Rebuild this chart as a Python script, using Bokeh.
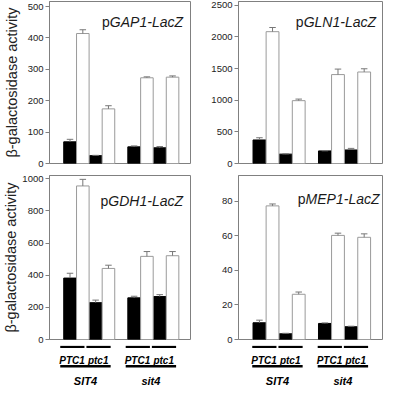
from bokeh.plotting import figure
from bokeh.models import Range1d, FixedTicker, Label, Whisker, TeeHead, ColumnDataSource
from bokeh.layouts import column, row
from bokeh.embed import file_html
from bokeh.resources import INLINE
from bokeh.core.properties import value

# ---------------- data ----------------
strains = ["PTC1", "ptc1", "PTC1", "ptc1"]
backgrounds = ["SIT4", "sit4"]
y_label = "β-galactosidase activity"

gap1_black = [69, 25, 53, 50]
gap1_black_err = [8, 1, 3, 4]
gap1_white = [414, 174, 273, 275]
gap1_white_err = [12, 10, 3, 4]
gap1_ticks = [0, 100, 200, 300, 400, 500]
gap1_max = 516

gln1_black = [372, 148, 199, 214]
gln1_black_err = [35, 5, 2, 25]
gln1_white = [2083, 993, 1405, 1446]
gln1_white_err = [66, 25, 87, 51]
gln1_ticks = [0, 500, 1000, 1500, 2000, 2500]
gln1_max = 2560

gdh1_black = [382, 229, 259, 267]
gdh1_black_err = [30, 16, 10, 12]
gdh1_white = [955, 442, 517, 521]
gdh1_white_err = [41, 20, 30, 26]
gdh1_ticks = [0, 200, 400, 600, 800, 1000]
gdh1_max = 1020

mep1_black = [9.7, 3.3, 9.3, 7.4]
mep1_black_err = [1.5, 0.3, 0.3, 0.3]
mep1_white = [77.4, 26.2, 60.3, 59.2]
mep1_white_err = [1.1, 1.3, 1.3, 2.0]
mep1_ticks = [0, 20, 40, 60, 80]
mep1_max = 95

# ---------------- layout / style ----------------
FONT = "Liberation Sans"
GRAY = "#808080"
WHITE_EDGE = "#9a9a9a"
ERR = "#777777"
BAR_W = 0.98
X0, X1 = -0.6, 10.4


def pair_x(i):
    return 1 + 2 * i + (1 if i >= 2 else 0)


black_x = [pair_x(i) for i in range(len(strains))]
white_x = [b + 1 for b in black_x]

# approximate Liberation Sans advance widths (em) for title width estimate
ADV = {"G": .778, "A": .667, "P": .667, "1": .556, "-": .333, "L": .556, "a": .556,
       "c": .5, "Z": .611, "N": .722, "D": .722, "H": .722, "M": .833, "E": .667}
TITLE_PX = 14


def text_w(s, px):
    return sum(ADV.get(ch, .556) for ch in s) * px


def panel(gene, black, black_err, white, white_err, ticks, ymax,
          left, frame_h, top_b, bot_b, label_standoff, tdx, tdy):
    mbl, mbr = (46, 4) if left else (44, 2)
    w = mbl + 144 + mbr
    h = top_b + frame_h + bot_b
    p = figure(width=w, height=h, x_range=Range1d(X0, X1), y_range=Range1d(0, ymax),
               title=None, output_backend="svg", toolbar_location=None, x_axis_location=None,
               y_axis_location="left", min_border_left=mbl, min_border_right=mbr,
               min_border_top=top_b, min_border_bottom=bot_b)
    p.grid.visible = False
    p.outline_line_color = GRAY
    p.outline_line_width = 1
    p.background_fill_color = "white"
    p.border_fill_color = "white"

    ax = p.yaxis[0]
    ax.ticker = FixedTicker(ticks=ticks)
    ax.major_label_text_font = FONT
    ax.major_label_text_font_size = "9.5px"
    ax.major_label_text_color = "#222222"
    ax.major_label_standoff = 2
    ax.major_tick_out = 4
    ax.major_tick_in = 0
    ax.minor_tick_out = 0
    ax.minor_tick_in = 0
    ax.axis_line_color = GRAY
    ax.major_tick_line_color = GRAY
    if left:
        ax.axis_label = y_label
        ax.axis_label_text_font = FONT
        ax.axis_label_text_font_style = "normal"
        ax.axis_label_text_font_size = "14.5px"
        ax.axis_label_text_color = "#222222"
        ax.axis_label_standoff = label_standoff

    p.vbar(x=black_x, top=black, width=BAR_W, fill_color="black", line_color="black", line_width=1)
    p.vbar(x=white_x, top=white, width=BAR_W, fill_color="white", line_color=WHITE_EDGE, line_width=1)

    src = ColumnDataSource(dict(
        x=black_x + white_x,
        lo=list(black) + list(white),
        hi=[m + e for m, e in zip(black, black_err)] + [m + e for m, e in zip(white, white_err)],
    ))
    p.add_layout(Whisker(source=src, base="x", lower="lo", upper="hi", dimension="height",
                         line_color=ERR, line_width=1, lower_head=None,
                         upper_head=TeeHead(size=6.5, line_color=ERR, line_width=1),
                         level="overlay"))

    ital = gene + "-LacZ"
    iw = text_w(ital, TITLE_PX)
    p.add_layout(Label(x=X1, y=ymax, x_offset=-tdx, y_offset=-tdy, text=ital,
                       text_align="right", text_baseline="alphabetic",
                       text_font=FONT, text_font_style="italic",
                       text_font_size=f"{TITLE_PX}px", text_color="#1a1a1a"))
    p.add_layout(Label(x=X1, y=ymax, x_offset=-tdx - iw, y_offset=-tdy, text="p",
                       text_align="right", text_baseline="alphabetic",
                       text_font=FONT, text_font_style="normal",
                       text_font_size=f"{TITLE_PX}px", text_color="#1a1a1a"))
    return p


SHORT_Y, STRAIN_Y, LONG_Y, GROUP_Y = 1.4, 14.5, 20.7, 35.8
LAB_H = 41


def label_fig(xr, left):
    mbl, mbr = (46, 4) if left else (44, 2)
    q = figure(width=mbl + 144 + mbr, height=LAB_H, x_range=xr, y_range=Range1d(LAB_H, 0),
               title=None, output_backend="svg", toolbar_location=None, x_axis_location=None,
               y_axis_location=None, min_border_left=mbl, min_border_right=mbr,
               min_border_top=0, min_border_bottom=0)
    q.outline_line_color = None
    q.grid.visible = False
    q.border_fill_color = "white"
    sx0 = [b - 0.55 for b in black_x]
    sx1 = [wx + 0.3 for wx in white_x]
    q.segment(x0=sx0, y0=[SHORT_Y] * 4, x1=sx1, y1=[SHORT_Y] * 4, line_color="black", line_width=2.4)
    q.text(x=[(b + wx) / 2 - 0.15 for b, wx in zip(black_x, white_x)], y=[STRAIN_Y] * 4, text=strains,
           text_align="center", text_baseline="alphabetic", text_font=value(FONT),
           text_font_style="bold italic", text_font_size="10px", text_color="black")
    gx0 = [sx0[0], sx0[2]]
    gx1 = [sx1[1], sx1[3]]
    q.segment(x0=gx0, y0=[LONG_Y] * 2, x1=gx1, y1=[LONG_Y] * 2, line_color="black", line_width=2.4)
    q.text(x=[(a + b) / 2 for a, b in zip(gx0, gx1)], y=[GROUP_Y] * 2, text=backgrounds,
           text_align="center", text_baseline="alphabetic", text_font=value(FONT),
           text_font_style="bold italic", text_font_size="11px", text_color="black")
    return q


p1 = panel("GAP1", gap1_black, gap1_black_err, gap1_white, gap1_white_err, gap1_ticks, gap1_max,
           True, 162, 1, 6, 5, 7.5, 20)
p2 = panel("GLN1", gln1_black, gln1_black_err, gln1_white, gln1_white_err, gln1_ticks, gln1_max,
           False, 162, 1, 6, 0, 6.5, 20)
p3 = panel("GDH1", gdh1_black, gdh1_black_err, gdh1_white, gdh1_white_err, gdh1_ticks, gdh1_max,
           True, 164, 6, 6, 0, 7.5, 25)
p4 = panel("MEP1", mep1_black, mep1_black_err, mep1_white, mep1_white_err, mep1_ticks, mep1_max,
           False, 164, 6, 6, 0, 3, 23)
l3 = label_fig(p3.x_range, True)
l4 = label_fig(p4.x_range, False)

layout = column(row(p1, p2), row(p3, p4), row(l3, l4))
open("out.html", "w").write(file_html(layout, INLINE))
